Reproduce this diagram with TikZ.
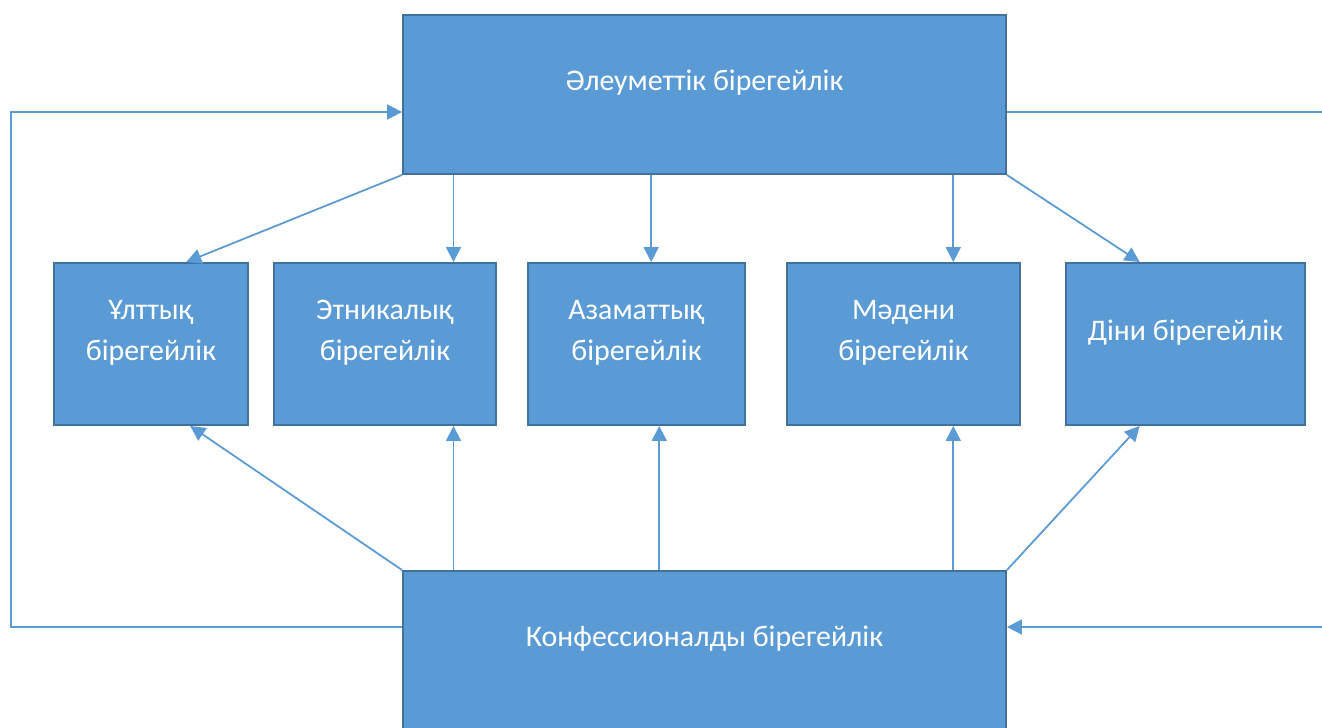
\documentclass[tikz,border=0pt]{standalone}
\usepackage{fontspec}
\setmainfont{Carlito}
\usetikzlibrary{calc,arrows.meta}
\definecolor{boxfill}{HTML}{5B9BD5}
\definecolor{boxline}{HTML}{41719C}

\begin{document}
\begin{tikzpicture}[x=0.02cm,y=-0.02cm,
    box/.style={fill=boxfill,draw=boxline,line width=1.1pt,inner sep=0pt},
    txt/.style={text=white,align=center,yshift=0.23cm,font=\fontsize{17}{23.3}\selectfont},
    arr/.style={draw=boxfill,line width=1pt,-{Triangle[length=0.3cm,width=0.3cm]}},
    lin/.style={draw=boxfill,line width=1pt}]
  \useasboundingbox (0,0) rectangle (1322,727);
  \draw
    (704.5,94.5) node[box,minimum width=12.06cm,minimum height=3.18cm,
      label={[txt]center:Әлеуметтік бірегейлік}] (top){}
    (151,344) node[box,minimum width=3.88cm,minimum height=3.24cm,
      label={[txt]center:Ұлттық\\бірегейлік}] (m1){}
    (385,344) node[box,minimum width=4.44cm,minimum height=3.24cm,
      label={[txt]center:Этникалық\\бірегейлік}] (m2){}
    (636.5,344) node[box,minimum width=4.34cm,minimum height=3.24cm,
      label={[txt]center:Азаматтық\\бірегейлік}] (m3){}
    (903.5,344) node[box,minimum width=4.66cm,minimum height=3.24cm,
      label={[txt]center:Мәдени\\бірегейлік}] (m4){}
    (1185.5,344) node[box,minimum width=4.78cm,minimum height=3.24cm,
      label={[txt]center:Діни бірегейлік}] (m5){}
    (704.5,650.5) node[box,minimum width=12.06cm,minimum height=3.18cm,
      label={[txt]center:Конфессионалды бірегейлік}] (bot){};
  % points on the middle boxes
  \coordinate (m1t) at ($(m1.north west)!0.68!(m1.north east)$);
  \coordinate (m1b) at ($(m1.south west)!0.70!(m1.south east)$);
  \coordinate (m2t) at ($(m2.north west)!0.806!(m2.north east)$);
  \coordinate (m3t) at ($(m3.north west)!0.567!(m3.north east)$);
  \coordinate (m3b) at ($(m3.south west)!0.604!(m3.south east)$);
  \coordinate (m4t) at ($(m4.north west)!0.712!(m4.north east)$);
  \coordinate (m5t) at ($(m5.north west)!0.31!(m5.north east)$);
  \coordinate (m5b) at ($(m5.south west)!0.31!(m5.south east)$);
  % side links
  \coordinate (tl) at ($(top.west)+(0,-0.35cm)$);
  \coordinate (tr) at ($(top.east)+(0,-0.35cm)$);
  \coordinate (bl) at ($(bot.west)+(0,0.47cm)$);
  \coordinate (br) at ($(bot.east)+(0,0.47cm)$);
  \coordinate (lft) at (11,0);
  \coordinate (rgt) at (1322,0);
  \begin{scope}
    \draw[arr] (top.south west) -- (m1t);
    \draw[arr] (top.south -| m2t) -- (m2t);
    \draw[arr] (top.south -| m3t) -- (m3t);
    \draw[arr] (top.south -| m4t) -- (m4t);
    \draw[arr] (top.south east) -- (m5t);
    \draw[arr] (bot.north west) -- (m1b);
    \draw[arr] (bot.north -| m2t) -- (m2.south -| m2t);
    \draw[arr] (bot.north -| m3b) -- (m3b);
    \draw[arr] (bot.north -| m4t) -- (m4.south -| m4t);
    \draw[arr] (bot.north east) -- (m5b);
    \draw[arr] (bl) -- (lft |- bl) -- (lft |- tl) -- (tl);
    \draw[lin] (tr) -- (rgt |- tr);
    \draw[arr] (rgt |- br) -- (br);
  \end{scope}
\end{tikzpicture}
\end{document}
